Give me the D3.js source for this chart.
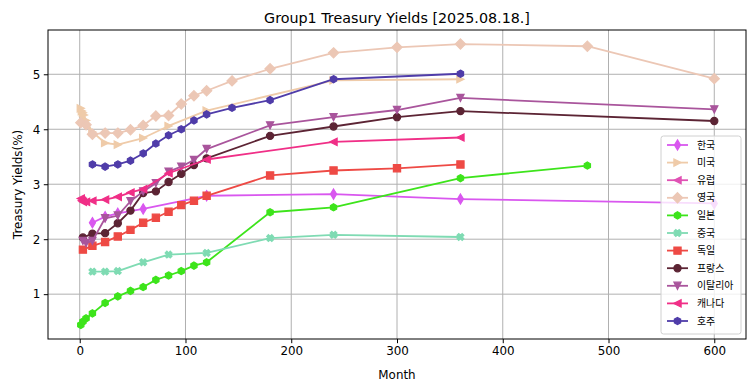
<!DOCTYPE html>
<html>
<head>
  <meta charset="utf-8">
  <title>Group1 Treasury Yields</title>
  <script src="https://d3js.org/d3.v7.min.js"></script>
  <style>
    body { margin: 0; background: #fff; }
    text { font-family: "DejaVu Sans", sans-serif; }
    .legend text { font-family: "Noto Sans CJK KR", "DejaVu Sans", sans-serif; }
  </style>
</head>
<body>
  <svg width="755" height="391"></svg>
  <script>
    // maturities in months, yields in %
    var korMonths = [12, 24, 36, 60, 120, 240, 360, 600];
    var korYields = [2.30, 2.41, 2.47, 2.55, 2.79, 2.82, 2.73, 2.65];

    var usaMonths = [1, 2, 3, 4, 6, 12, 24, 36, 60, 84, 120, 240, 360];
    var usaYields = [4.38, 4.33, 4.30, 4.26, 4.16, 3.95, 3.75, 3.72, 3.84, 4.06, 4.34, 4.89, 4.91];

    var eurMonths = [];
    var eurYields = [];

    var gbrMonths = [1, 6, 12, 24, 36, 48, 60, 72, 84, 96, 108, 120, 144, 180, 240, 300, 360, 480, 600];
    var gbrYields = [4.12, 4.08, 3.91, 3.93, 3.93, 3.99, 4.07, 4.24, 4.25, 4.46, 4.61, 4.70, 4.88, 5.10, 5.39, 5.49, 5.55, 5.51, 4.92];

    var jpnMonths = [1, 3, 6, 12, 24, 36, 48, 60, 72, 84, 96, 108, 120, 180, 240, 360, 480];
    var jpnYields = [0.44, 0.50, 0.56, 0.65, 0.84, 0.96, 1.06, 1.13, 1.26, 1.34, 1.42, 1.52, 1.58, 2.49, 2.58, 3.11, 3.34];

    var chnMonths = [12, 24, 36, 60, 84, 120, 180, 240, 360];
    var chnYields = [1.41, 1.41, 1.42, 1.58, 1.72, 1.75, 2.02, 2.08, 2.04];

    var deuMonths = [3, 12, 24, 36, 48, 60, 72, 84, 96, 108, 120, 180, 240, 300, 360];
    var deuYields = [1.81, 1.88, 1.95, 2.05, 2.17, 2.30, 2.39, 2.50, 2.62, 2.70, 2.79, 3.16, 3.25, 3.29, 3.36];

    var fraMonths = [3, 12, 24, 36, 48, 60, 72, 84, 96, 108, 120, 180, 240, 300, 360, 600];
    var fraYields = [2.03, 2.10, 2.11, 2.29, 2.52, 2.84, 2.87, 3.04, 3.19, 3.35, 3.47, 3.88, 4.05, 4.22, 4.33, 4.15];

    var itaMonths = [3, 6, 12, 24, 36, 48, 60, 72, 84, 96, 108, 120, 180, 240, 300, 360, 600];
    var itaYields = [1.97, 1.93, 1.97, 2.38, 2.43, 2.69, 2.87, 3.02, 3.23, 3.32, 3.44, 3.64, 4.07, 4.22, 4.35, 4.57, 4.36];

    var canMonths = [1, 2, 3, 6, 12, 24, 36, 48, 60, 84, 120, 240, 360];
    var canYields = [2.74, 2.70, 2.68, 2.68, 2.70, 2.72, 2.77, 2.85, 2.91, 3.20, 3.45, 3.77, 3.85];

    var ausMonths = [12, 24, 36, 48, 60, 72, 84, 96, 108, 120, 144, 180, 240, 360];
    var ausYields = [3.36, 3.32, 3.36, 3.43, 3.56, 3.74, 3.89, 4.00, 4.16, 4.27, 4.39, 4.53, 4.91, 5.01];

    var names = ["한국", "미국", "유럽", "영국", "일본", "중국", "독일", "프랑스", "이탈리아", "캐나다", "호주"];
    var months = [korMonths, usaMonths, eurMonths, gbrMonths, jpnMonths, chnMonths, deuMonths, fraMonths, itaMonths, canMonths, ausMonths];
    var yields = [korYields, usaYields, eurYields, gbrYields, jpnYields, chnYields, deuYields, fraYields, itaYields, canYields, ausYields];
    var colors = ["#d957ef", "#efcba9", "#e052b4", "#ecc7b5", "#3de41b", "#7fdbb3", "#ee4a45", "#5c2434", "#a9559c", "#f02f87", "#4f3ca9"];
    var markers = ["d", ">", "<", "D", "h", "X", "s", "o", "v", "<", "h"];

    var xTicks = [0, 100, 200, 300, 400, 500, 600];
    var yTicks = [1, 2, 3, 4, 5];

    var series = names.map(function(n, i) {
      return {
        name: n, color: colors[i], marker: markers[i],
        points: months[i].map(function(m, j) { return {m: m, v: yields[i][j]}; })
      };
    });

    var margin = {top: 30, right: 9, bottom: 52, left: 48},
        width = 755 - margin.left - margin.right,
        height = 391 - margin.top - margin.bottom;

    // matplotlib-like 5% padding
    var allM = d3.merge(months), allV = d3.merge(yields);
    var mMax = d3.max(allM);
    var vMin = d3.min(allV), vMax = d3.max(allV);
    var mPad = (mMax - 0) * 0.05, vPad = (vMax - vMin) * 0.05;

    var x = d3.scaleLinear().domain([0 - mPad, mMax + mPad]).range([0, width]);
    var y = d3.scaleLinear().domain([vMin - vPad, vMax + vPad]).range([height, 0]);

    var ms = 7.2;
    function markerPath(type, s) {
      var h = s / 2, p;
      switch (type) {
        case "o": return "M" + h + ",0A" + h + "," + h + " 0 1,1 " + (-h) + ",0A" + h + "," + h + " 0 1,1 " + h + ",0Z";
        case "s": p = [[-h, -h], [h, -h], [h, h], [-h, h]]; break;
        case "D": var r = s * 0.707; p = [[0, -r], [r, 0], [0, r], [-r, 0]]; break;
        case "d": var rh = s * 0.707, rw = s * 0.707 * 0.6; p = [[0, -rh], [rw, 0], [0, rh], [-rw, 0]]; break;
        case ">": p = [[h, 0], [-h, -h], [-h, h]]; break;
        case "<": p = [[-h, 0], [h, -h], [h, h]]; break;
        case "v": p = [[0, h], [-h, -h], [h, -h]]; break;
        case "h": p = d3.range(6).map(function(k) { var a = Math.PI / 3 * k - Math.PI / 2; return [h * Math.cos(a), h * Math.sin(a)]; }); break;
        case "X":
          var a = h, b = s / 6;
          var plus = [[-b, -a], [b, -a], [b, -b], [a, -b], [a, b], [b, b], [b, a], [-b, a], [-b, b], [-a, b], [-a, -b], [-b, -b]];
          var c = Math.SQRT1_2;
          p = plus.map(function(q) { return [(q[0] - q[1]) * c, (q[0] + q[1]) * c]; });
          break;
      }
      return "M" + p.map(function(q) { return q[0].toFixed(2) + "," + q[1].toFixed(2); }).join("L") + "Z";
    }

    var svg = d3.select("svg")
      .append("g")
        .attr("transform", "translate(" + margin.left + "," + margin.top + ")");

    // grid
    svg.append("g").selectAll("line").data(xTicks).enter().append("line")
        .attr("x1", function(d) { return x(d); }).attr("x2", function(d) { return x(d); })
        .attr("y1", 0).attr("y2", height)
        .attr("stroke", "#b0b0b0").attr("stroke-width", 1);
    svg.append("g").selectAll("line").data(yTicks).enter().append("line")
        .attr("y1", function(d) { return y(d); }).attr("y2", function(d) { return y(d); })
        .attr("x1", 0).attr("x2", width)
        .attr("stroke", "#b0b0b0").attr("stroke-width", 1);

    // lines + markers
    var line = d3.line().x(function(d) { return x(d.m); }).y(function(d) { return y(d.v); });

    series.forEach(function(s) {
      var g = svg.append("g");
      if (!s.points.length) return;
      g.append("path")
          .datum(s.points)
          .attr("fill", "none")
          .attr("stroke", s.color)
          .attr("stroke-width", 1.8)
          .attr("stroke-linejoin", "round")
          .attr("d", line);
      g.selectAll(".pt").data(s.points).enter().append("path")
          .attr("class", "pt")
          .attr("transform", function(d) { return "translate(" + x(d.m) + "," + y(d.v) + ")"; })
          .attr("d", markerPath(s.marker, ms))
          .attr("fill", s.color)
          .attr("stroke", s.color)
          .attr("stroke-width", 1.2)
          .attr("stroke-linejoin", "miter");
    });

    // axes
    var xAxis = svg.append("g")
        .attr("transform", "translate(0," + height + ")")
        .call(d3.axisBottom(x).tickValues(xTicks).tickFormat(d3.format("d")).tickSize(4.2).tickPadding(3.5).tickSizeOuter(0));
    var yAxis = svg.append("g")
        .call(d3.axisLeft(y).tickValues(yTicks).tickFormat(d3.format("d")).tickSize(4.2).tickPadding(3.5).tickSizeOuter(0));
    [xAxis, yAxis].forEach(function(a) {
      a.select(".domain").remove();
      a.selectAll("text").attr("font-size", "11.9px").attr("font-family", "DejaVu Sans").attr("fill", "#000");
      a.selectAll("line").attr("stroke", "#000").attr("stroke-width", 1);
    });

    svg.append("rect")
        .attr("width", width).attr("height", height)
        .attr("fill", "none").attr("stroke", "#000").attr("stroke-width", 1);

    // titles
    svg.append("text")
        .attr("x", width / 2).attr("y", -7)
        .attr("text-anchor", "middle")
        .attr("font-size", "14.3px")
        .text("Group1 Treasury Yields [2025.08.18.]");
    svg.append("text")
        .attr("x", width / 2).attr("y", height + 40)
        .attr("text-anchor", "middle")
        .attr("font-size", "11.9px")
        .text("Month");
    svg.append("text")
        .attr("transform", "translate(" + (-26) + "," + (height / 2) + ") rotate(-90)")
        .attr("text-anchor", "middle")
        .attr("font-size", "11.9px")
        .text("Treasury Yields(%)");

    // legend
    var lgW = 80, lgH = 198, lgX = width - 5 - lgW, lgY = height - 5 - lgH;
    var legend = svg.append("g").attr("class", "legend")
        .attr("transform", "translate(" + lgX + "," + lgY + ")");
    legend.append("rect")
        .attr("width", lgW).attr("height", lgH)
        .attr("rx", 2.5)
        .attr("fill", "#fff").attr("fill-opacity", 0.8)
        .attr("stroke", "#d0d0d0").attr("stroke-width", 1);
    var item = legend.selectAll(".item").data(series).enter().append("g")
        .attr("class", "item")
        .attr("transform", function(d, i) { return "translate(0," + (9 + i * 17.6) + ")"; });
    item.append("line")
        .attr("x1", 6).attr("x2", 27)
        .attr("stroke", function(d) { return d.color; })
        .attr("stroke-width", 1.8);
    item.append("path")
        .attr("transform", "translate(16.5,0)")
        .attr("d", function(d) { return markerPath(d.marker, ms); })
        .attr("fill", function(d) { return d.color; })
        .attr("stroke", function(d) { return d.color; })
        .attr("stroke-width", 1.2);
    item.append("text")
        .attr("x", 36).attr("y", 3.6)
        .attr("font-size", "9.9px")
        .text(function(d) { return d.name; });
  </script>
</body>
</html>
